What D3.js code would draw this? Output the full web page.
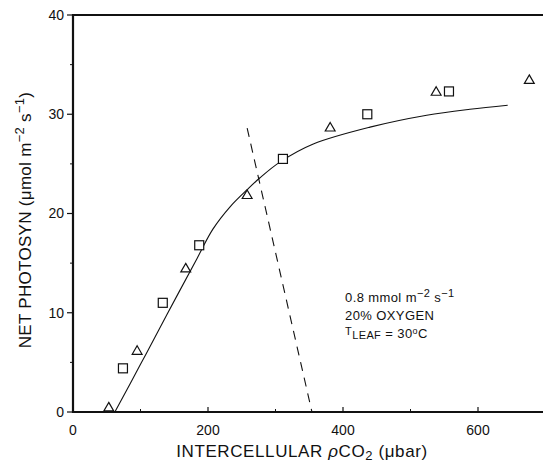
<!DOCTYPE html>
<html>
<head>
<meta charset="utf-8">
<script src="https://cdn.jsdelivr.net/npm/d3@7"></script>
<style>
  body { margin: 0; background: #fff; }
  svg text { font-family: "Liberation Sans", Arial, sans-serif; fill: #111; }
</style>
</head>
<body>
<div id="chart"></div>
<script>
// data
var triX = [53, 95, 167, 258, 381, 538, 676];
var triY = [0.5, 6.2, 14.5, 21.9, 28.7, 32.3, 33.5];
var sqX = [74, 133, 187, 311, 436, 557];
var sqY = [4.4, 11.0, 16.8, 25.5, 30.0, 32.3];
var fitX = [62, 100, 139, 184, 207, 233, 258, 277, 307, 356, 440, 524, 588, 644];
var fitY = [0, 4.8, 9.8, 15.5, 18.4, 20.7, 22.4, 23.6, 25.2, 27.0, 28.7, 29.9, 30.5, 30.9];
var dashX = [258, 354];
var dashY = [28.6, 0];
var xTicks = [0, 200, 400, 600];
var xMinor = [100, 300, 500];
var yTicks = [0, 10, 20, 30, 40];
var yMinor = [5, 15, 25, 35];

var W = 543, H = 463;
var margin = {top: 15, right: 0, bottom: 51, left: 73};

var svg = d3.select("#chart").append("svg")
    .attr("width", W)
    .attr("height", H);

var x = d3.scaleLinear().domain([0, 700]).range([margin.left, margin.left + 472.5]);
var y = d3.scaleLinear().domain([0, 40]).range([412, 15]);

// frame: left, bottom, top
var frame = svg.append("g").attr("stroke", "#111").attr("stroke-width", 2.2).attr("fill", "none");
frame.append("line").attr("x1", x(0)).attr("x2", x(0)).attr("y1", y(40) - 1).attr("y2", y(0) + 1);
frame.append("line").attr("x1", x(0)).attr("x2", W).attr("y1", y(0)).attr("y2", y(0));
frame.append("line").attr("x1", x(0)).attr("x2", W).attr("y1", y(40)).attr("y2", y(40));

// y axis ticks
var yAxis = svg.append("g");
yTicks.forEach(function(v) {
  yAxis.append("line").attr("x1", x(0) - 6).attr("x2", x(0)).attr("y1", y(v)).attr("y2", y(v))
    .attr("stroke", "#111").attr("stroke-width", 1.2);
  yAxis.append("text").attr("x", x(0) - 9).attr("y", y(v)).attr("dy", "0.35em")
    .attr("text-anchor", "end").attr("font-size", 14).text(v);
});
yMinor.forEach(function(v) {
  yAxis.append("line").attr("x1", x(0) - 3).attr("x2", x(0)).attr("y1", y(v)).attr("y2", y(v))
    .attr("stroke", "#111").attr("stroke-width", 1);
});

// x axis ticks
var xAxis = svg.append("g");
xTicks.forEach(function(v) {
  xAxis.append("line").attr("x1", x(v)).attr("x2", x(v)).attr("y1", y(0)).attr("y2", y(0) - 5)
    .attr("stroke", "#111").attr("stroke-width", 1.2);
  xAxis.append("text").attr("x", x(v)).attr("y", y(0) + 23)
    .attr("text-anchor", "middle").attr("font-size", 14).text(v);
});
xMinor.forEach(function(v) {
  xAxis.append("line").attr("x1", x(v)).attr("x2", x(v)).attr("y1", y(0)).attr("y2", y(0) - 3)
    .attr("stroke", "#111").attr("stroke-width", 1);
});

// axis titles
var xt = svg.append("text").attr("x", 302).attr("y", 457)
    .attr("text-anchor", "middle").attr("font-size", 17).attr("letter-spacing", 0.6);
xt.append("tspan").text("INTERCELLULAR ");
xt.append("tspan").attr("font-style", "italic").text("\u03C1");
xt.append("tspan").text("CO");
xt.append("tspan").attr("dy", 3).attr("font-size", 13).text("2");
xt.append("tspan").attr("dy", -3).text(" (\u03BCbar)");

var yt = svg.append("text").attr("transform", "translate(31,220) rotate(-90)")
    .attr("text-anchor", "middle").attr("font-size", 17).attr("letter-spacing", 0.3);
yt.append("tspan").text("NET PHOTOSYN (\u03BCmol m");
yt.append("tspan").attr("dy", -7).attr("font-size", 13).text("\u22122");
yt.append("tspan").attr("dy", 7).text(" s");
yt.append("tspan").attr("dy", -7).attr("font-size", 13).text("\u22121");
yt.append("tspan").attr("dy", 7).text(")");

// fitted curve
var fit = fitX.map(function(v, i) { return [v, fitY[i]]; });
var line = d3.line().x(function(d) { return x(d[0]); }).y(function(d) { return y(d[1]); })
    .curve(d3.curveCatmullRom.alpha(0.5));
svg.append("path").datum(fit).attr("d", line)
    .attr("fill", "none").attr("stroke", "#111").attr("stroke-width", 1.1);

// dashed supply line
var dash = dashX.map(function(v, i) { return [v, dashY[i]]; });
svg.append("path").datum(dash).attr("d", d3.line().x(function(d) { return x(d[0]); }).y(function(d) { return y(d[1]); }))
    .attr("fill", "none").attr("stroke", "#111").attr("stroke-width", 1.1)
    .attr("stroke-dasharray", "9,7");

// markers
var tri = d3.symbol().type(d3.symbolTriangle).size(42);
triX.forEach(function(v, i) {
  svg.append("path").attr("d", tri)
    .attr("transform", "translate(" + x(v) + "," + (y(triY[i]) + 1) + ")")
    .attr("fill", "#fff").attr("stroke", "#111").attr("stroke-width", 1.2);
});
sqX.forEach(function(v, i) {
  svg.append("rect").attr("x", x(v) - 4.5).attr("y", y(sqY[i]) - 4.5)
    .attr("width", 9).attr("height", 9)
    .attr("fill", "#fff").attr("stroke", "#111").attr("stroke-width", 1.2);
});

// annotation
var ann = svg.append("g").attr("font-size", 13).attr("letter-spacing", 0.4);
var a1 = ann.append("text").attr("x", 345).attr("y", 302);
a1.append("tspan").text("0.8 mmol m");
a1.append("tspan").attr("dy", -5).attr("font-size", 11).text("\u22122");
a1.append("tspan").attr("dy", 5).text(" s");
a1.append("tspan").attr("dy", -5).attr("font-size", 11).text("\u22121");
ann.append("text").attr("x", 345).attr("y", 320).text("20% OXYGEN");
var a3 = ann.append("text").attr("x", 345).attr("y", 338);
a3.append("tspan").attr("dy", -3).attr("font-size", 11).text("T");
a3.append("tspan").attr("dy", 4).attr("font-size", 11).text("LEAF");
a3.append("tspan").attr("dy", -1).text(" = 30");
a3.append("tspan").attr("dy", -4).attr("font-size", 9).text("o");
a3.append("tspan").attr("dy", 4).text("C");
</script>
</body>
</html>
